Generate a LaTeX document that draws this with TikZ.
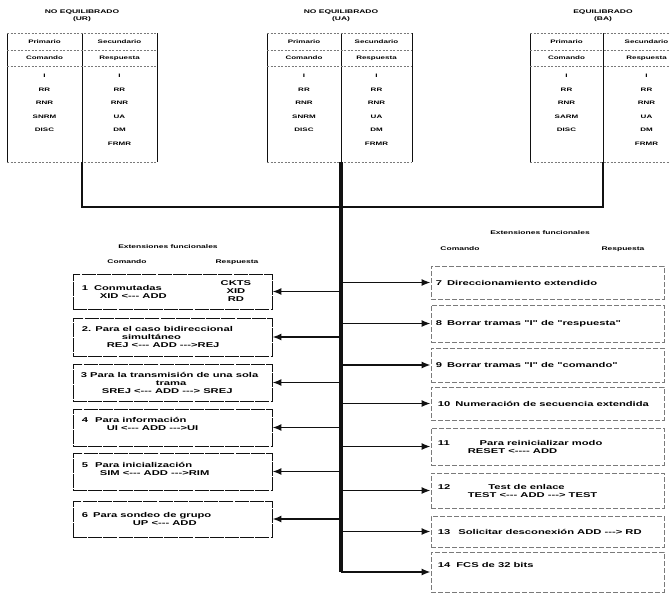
\documentclass[tikz,border=0pt]{standalone}
\usepackage{fontspec}
\usetikzlibrary{arrows.meta,positioning,calc}
\newfontfamily\rotulo{Liberation Sans}[FakeStretch=1.6]
\definecolor{tinta}{HTML}{111111}
\definecolor{tenue}{HTML}{7A7A7A}
\tikzset{
  tit/.style={font=\rotulo\bfseries\fontsize{5.3}{7}\selectfont, align=center, inner sep=0pt},
  celda/.style={font=\rotulo\bfseries\fontsize{5}{6}\selectfont, inner sep=0pt},
  encab/.style={font=\rotulo\bfseries\fontsize{5.3}{6}\selectfont, inner sep=0pt},
  marco/.style={draw=tinta, line width=0.7pt},
  reng/.style={draw=tenue, line width=0.6pt, dash pattern=on 2pt off 1.5pt},
  cajaL/.style={draw=tinta, line width=0.7pt, dash pattern=on 14pt off 1.2pt, minimum width=199pt, inner sep=0pt},
  cajaR/.style={draw=tenue, line width=0.6pt, dash pattern=on 5pt off 2pt, minimum width=233pt, inner sep=0pt},
  txt/.style={font=\rotulo\bfseries\fontsize{7}{8}\selectfont, align=left, inner sep=0pt},
  bus/.style={draw=tinta, line width=2.4pt},
  tronco/.style={draw=tinta, line width=3.4pt},
  link/.style={-{Latex[length=9pt, width=7pt]}, draw=tinta, line width=1.8pt},
}
% one station: name, left x, middle x, right x, title, fourth command
\newcommand{\estacion}[6]{%
  \node[tit] (#1-tit) at (#3,15.5) {#5};
  \draw[marco] (#2,33) -- (#2,162) (#3,33) -- (#3,162) (#4,33) -- (#4,162);
  \draw[reng] (#2,33) -- (#4,33) (#2,50) -- (#4,50) (#2,66) -- (#4,66) (#2,162) -- (#4,162);
  \node[celda] (#1-pri) at ({(#2+#3)/2},42) {Primario};
  \node[celda] (#1-sec) at ({(#3+#4)/2},42) {Secundario};
  \node[celda] (#1-com) at ({(#2+#3)/2},58) {Comando};
  \node[celda] (#1-res) at ({(#3+#4)/2},58) {Respuesta};
  \foreach \cmd [count=\i] in {I,RR,RNR,#6,DISC}
    \node[celda] (#1-c\i) at ({(#2+#3)/2},{62.5+13.5*\i}) {\cmd};
  \foreach \rsp [count=\i] in {I,RR,RNR,UA,DM,FRMR}
    \node[celda] (#1-r\i) at ({(#3+#4)/2},{62.5+13.5*\i}) {\rsp};
  \coordinate (#1-pie) at (#3,162);}

\begin{document}
\begin{tikzpicture}[x=1pt, y=-1pt]
  \path[use as bounding box, clip] (0,0) rectangle (669,592);

  % stations
  \estacion{ur}{7}{82}{157}{NO EQUILIBRADO\\(UR)}{SNRM}
  \estacion{ua}{267}{341}{412}{NO EQUILIBRADO\\(UA)}{SNRM}
  \estacion{ba}{530}{603}{690}{EQUILIBRADO\\(BA)}{SARM}
  \coordinate (barra) at (341,207);
  \draw[bus] (ur-pie) |- (barra) -| (ba-pie);

  % headings
  \node[encab] (izq-tit) at (168,247) {Extensiones funcionales};
  \node[encab] (izq-com) at (127,262) {Comando};
  \node[encab] (izq-res) at (237,262) {Respuesta};
  \node[encab] (der-tit) at (540,233) {Extensiones funcionales};
  \node[encab] (der-com) at (460,249) {Comando};
  \node[encab] (der-res) at (623,249) {Respuesta};

  % left extensions
  \node[cajaL, minimum height=35pt] (ext1) at (172.5,291.5) {};
  \node[txt, right=9pt of ext1.west] (ext1-t) {1\hspace*{6pt}Conmutadas\\\hspace*{18pt}XID <--- ADD};
  \node[txt, align=center, left=21pt of ext1.east] (ext1-r) {CKTS\\XID\\RD};
  \node[cajaL, minimum height=38pt] (ext2) at (172.5,337) {};
  \node[txt, right=9pt of ext2.west] (ext2-t) {2. Para el caso bidireccional\\\hspace*{40pt}simultáneo\\\hspace*{25pt}REJ <--- ADD --->REJ};
  \node[cajaL, minimum height=37pt] (ext3) at (172.5,382.5) {};
  \node[txt, right=8pt of ext3.west] (ext3-t) {3 Para la transmisión de una sola\\\hspace*{75pt}trama\\\hspace*{21pt}SREJ <--- ADD ---> SREJ};
  \node[cajaL, minimum height=37pt] (ext4) at (172.5,427.5) {};
  \node[txt, right=9pt of ext4.west, yshift=4pt] (ext4-t) {4\hspace*{7pt}Para información\\\hspace*{25pt}UI <--- ADD --->UI};
  \node[cajaL, minimum height=37pt] (ext5) at (172.5,471.5) {};
  \node[txt, right=9pt of ext5.west, yshift=3pt] (ext5-t) {5\hspace*{7pt}Para inicialización\\\hspace*{18pt}SIM <--- ADD --->RIM};
  \node[cajaL, minimum height=36pt] (ext6) at (172.5,519) {};
  \node[txt, right=9pt of ext6.west] (ext6-t) {6\hspace*{5pt}Para sondeo de grupo\\\hspace*{51pt}UP <--- ADD};

  % right extensions
  \node[cajaR, minimum height=33pt] (ext7) at (547.5,282.5) {};
  \node[txt, right=5pt of ext7.west] (ext7-t) {7\hspace*{5pt}Direccionamiento extendido};
  \node[cajaR, minimum height=37pt] (ext8) at (547.5,323.5) {};
  \node[txt, right=5pt of ext8.west] (ext8-t) {8\hspace*{5pt}Borrar tramas "I" de "respuesta"};
  \node[cajaR, minimum height=34pt] (ext9) at (547.5,365) {};
  \node[txt, right=5pt of ext9.west] (ext9-t) {9\hspace*{5pt}Borrar tramas "I" de "comando"};
  \node[cajaR, minimum height=33pt] (ext10) at (547.5,403.5) {};
  \node[txt, right=7pt of ext10.west] (ext10-t) {10\hspace*{5pt}Numeración de secuencia extendida};
  \node[cajaR, minimum height=37pt] (ext11) at (547.5,446.5) {};
  \node[txt, right=7pt of ext11.west] (ext11-t) {11\hspace*{30pt}Para reinicializar modo\\\hspace*{30pt}RESET <---- ADD};
  \node[cajaR, minimum height=35pt] (ext12) at (547.5,490.5) {};
  \node[txt, right=7pt of ext12.west] (ext12-t) {12\hspace*{38pt}Test de enlace\\\hspace*{30pt}TEST <--- ADD ---> TEST};
  \node[cajaR, minimum height=31pt] (ext13) at (547.5,531.5) {};
  \node[txt, right=7pt of ext13.west] (ext13-t) {13\hspace*{8pt}Solicitar desconexión ADD ---> RD};
  \node[cajaR, minimum height=40pt] (ext14) at (547.5,572) {};
  \node[txt, right=7pt of ext14.west, yshift=7pt] (ext14-t) {14\hspace*{6pt}FCS de 32 bits};

  % trunk and branches
  \coordinate (fin) at (ua-pie |- ext14.west);
  \draw[tronco] (ua-pie) -- (fin);
  \foreach \k in {1,...,6} \draw[link] (ext\k.east -| ua-pie) -- (ext\k.east);
  \foreach \k in {7,...,13} \draw[link] (ext\k.west -| ua-pie) -- (ext\k.west);
  \draw[link] (fin) -- (ext14.west);
\end{tikzpicture}
\end{document}
